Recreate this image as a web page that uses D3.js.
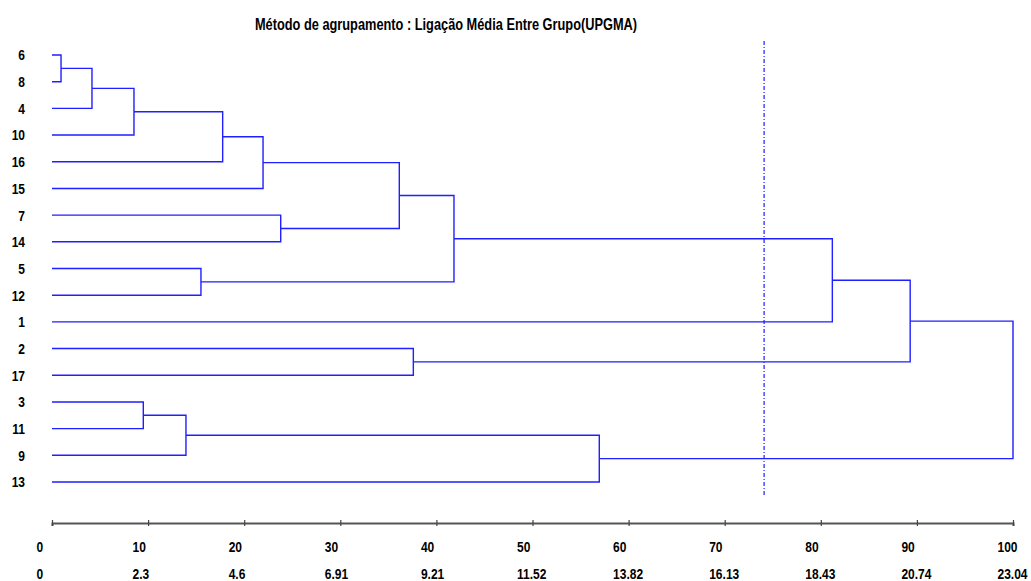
<!DOCTYPE html>
<html>
<head>
<meta charset="utf-8">
<script src="https://cdn.jsdelivr.net/npm/d3@7"></script>
<style>
  body { margin: 0; background: #fff; }
  text { font-family: "Liberation Sans", Arial, sans-serif; font-weight: bold; fill: #000; }
</style>
</head>
<body>
<div id="main"></div>
<script>
// data
var title = "Método de agrupamento : Ligação Média Entre Grupo(UPGMA)";
var leafLabels = ["6", "8", "4", "10", "16", "15", "7", "14", "5", "12", "1", "2", "17", "3", "11", "9", "13"];
// linkage rows: [child a, child b, height]; ids < 17 are leaves, 17+ are earlier rows
var linkage = [
    [0, 1, 0.94],
    [17, 2, 4.16],
    [18, 3, 8.53],
    [13, 14, 9.5],
    [20, 15, 13.94],
    [8, 9, 15.5],
    [19, 4, 17.76],
    [23, 5, 21.96],
    [6, 7, 23.8],
    [24, 25, 36.14],
    [11, 12, 37.6],
    [26, 22, 41.83],
    [21, 16, 56.95],
    [28, 10, 81.2],
    [30, 27, 89.3],
    [31, 29, 100]
];
var cutLevel = 74.1;
var tickTop = [0, 10, 20, 30, 40, 50, 60, 70, 80, 90, 100];
var tickBottom = ["0", "2.3", "4.6", "6.91", "9.21", "11.52", "13.82", "16.13", "18.43", "20.74", "23.04"];

// dimensions
var svg_width = 1031,
    svg_height = 581;
var narrow = 0.8; // squeeze text horizontally, no narrow font installed

var svg = d3.select("#main").append("svg")
    .attr("width", svg_width)
    .attr("height", svg_height);

var xScale = d3.scaleLinear().domain([0, 100]).range([52, 1013]);
var yScale = d3.scalePoint().domain(leafLabels).range([55, 482]);

function squeeze(x, y) {
    return "translate(" + x + "," + y + ") scale(" + narrow + ",1)";
}

// node positions
var nodes = leafLabels.map(function(l) { return {h: 0, y: yScale(l)}; });
linkage.forEach(function(r) {
    nodes.push({a: r[0], b: r[1], h: r[2], y: (nodes[r[0]].y + nodes[r[1]].y) / 2});
});

svg.append("text")
    .attr("transform", squeeze(446, 30))
    .attr("text-anchor", "middle")
    .style("font-size", "16px")
    .text(title);

// cut line
svg.append("line")
    .attr("x1", xScale(cutLevel)).attr("x2", xScale(cutLevel))
    .attr("y1", 41).attr("y2", 497)
    .attr("stroke", "#1a1aff")
    .attr("stroke-width", 1.2)
    .attr("stroke-dasharray", "4,2,1,2");

// dendrogram
svg.append("g").selectAll("path")
    .data(nodes.slice(leafLabels.length))
    .enter().append("path")
    .attr("fill", "none")
    .attr("stroke", "#1f1fff")
    .attr("stroke-width", 1.4)
    .attr("d", function(d) {
        var A = nodes[d.a], B = nodes[d.b];
        return "M" + xScale(A.h) + "," + A.y + "H" + xScale(d.h) + "V" + B.y + "H" + xScale(B.h);
    });

// leaf labels
svg.append("g").selectAll("text")
    .data(leafLabels)
    .enter().append("text")
    .attr("transform", function(d) { return squeeze(25, yScale(d)); })
    .attr("dy", "0.36em")
    .attr("text-anchor", "end")
    .style("font-size", "15px")
    .text(function(d) { return d; });

// axis
var axis = svg.append("g")
    .attr("transform", "translate(0,523)")
    .call(d3.axisBottom(xScale).tickValues(tickTop).tickSizeOuter(0).tickSize(3));
axis.attr("font-family", null).attr("font-size", null);
axis.select(".domain").attr("stroke", "#555").attr("stroke-width", 2);
axis.selectAll(".tick line").attr("y1", -3).attr("y2", 3).attr("stroke", "#444").attr("stroke-width", 1.2);
axis.selectAll(".tick text")
    .attr("x", null).attr("y", null).attr("dy", null)
    .attr("transform", squeeze(-16, 29))
    .attr("text-anchor", "start")
    .style("font-size", "15px")
    .attr("fill", "#000");
axis.selectAll(".tick").append("text")
    .attr("transform", squeeze(-16, 56))
    .attr("text-anchor", "start")
    .style("font-size", "15px")
    .attr("fill", "#000")
    .text(function(d, i) { return tickBottom[i]; });
</script>
</body>
</html>
